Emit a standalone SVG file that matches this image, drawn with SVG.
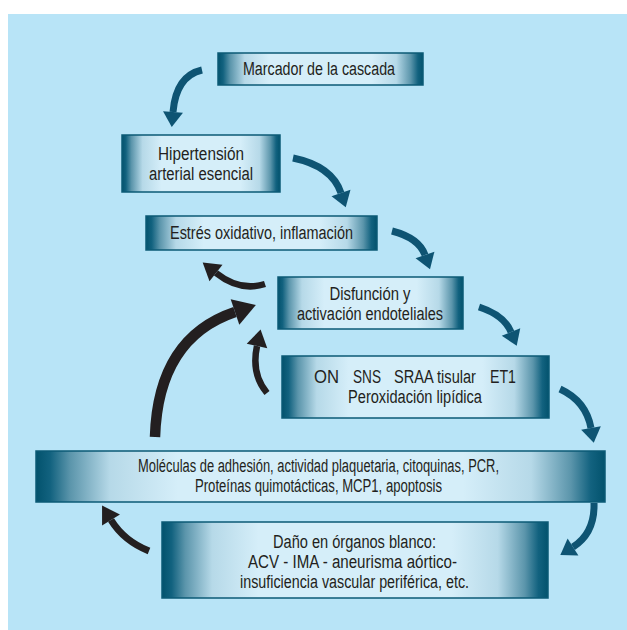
<svg xmlns="http://www.w3.org/2000/svg" width="627" height="630" viewBox="0 0 627 630">
<defs>
<style>
.box{fill:url(#g);stroke:#0b5a76;stroke-width:1.5}
.t{font-family:"Liberation Sans",Arial,sans-serif;font-size:19px;fill:#231f20;text-anchor:middle}
.ta{fill:none;stroke:#0e5473;stroke-width:7}
.ba{fill:none;stroke:#231f20;stroke-width:6.5}
</style>
<linearGradient id="g" x1="0" y1="0" x2="1" y2="0">
<stop offset="0" stop-color="#02526d"/>
<stop offset="0.025" stop-color="#12627f"/>
<stop offset="0.06" stop-color="#5b95ab"/>
<stop offset="0.13" stop-color="#b6d9e8"/>
<stop offset="0.25" stop-color="#d5eef9"/>
<stop offset="0.75" stop-color="#d5eef9"/>
<stop offset="0.87" stop-color="#b6d9e8"/>
<stop offset="0.94" stop-color="#5b95ab"/>
<stop offset="0.975" stop-color="#12627f"/>
<stop offset="1" stop-color="#02526d"/>
</linearGradient>
<marker id="ht" markerUnits="userSpaceOnUse" viewBox="0 -10 15 20" refX="0" refY="0" markerWidth="15" markerHeight="20" orient="auto" overflow="visible">
<path d="M0,-10 L15,0 L0,10 Z" fill="#0e5473"/>
</marker>
<marker id="hb" markerUnits="userSpaceOnUse" viewBox="0 -11 18 22" refX="0" refY="0" markerWidth="18" markerHeight="22" orient="auto" overflow="visible">
<path d="M0,-10.5 L17,0 L0,10.5 Z" fill="#231f20"/>
</marker>
<marker id="hbb" markerUnits="userSpaceOnUse" viewBox="0 -14 23 28" refX="0" refY="0" markerWidth="23" markerHeight="28" orient="auto" overflow="visible">
<path d="M0,-13.5 L22,0 L0,13.5 Z" fill="#231f20"/>
</marker>
</defs>
<rect x="0" y="0" width="627" height="630" fill="#ffffff"/>
<rect x="8" y="14" width="619" height="616" fill="#b8e4f7"/>

<g id="connectors">
<path class="ta" d="M202,70 Q176,76 173,112" marker-end="url(#ht)"/>
<path class="ta" d="M293,158 Q332,166 341,193" marker-end="url(#ht)"/>
<path class="ta" d="M392,231 Q419,238 425,255" marker-end="url(#ht)"/>
<path class="ta" d="M479,307 Q504,315 511,332" marker-end="url(#ht)"/>
<path class="ta" d="M560,389 Q586,401 591,428" marker-end="url(#ht)"/>
<path class="ta" d="M594,503 Q595,533 573,547" marker-end="url(#ht)"/>
<path class="ba" d="M265,284 Q240,292 216,273" marker-end="url(#hb)"/>
<path class="ba" style="stroke-width:10.5" d="M155,437 Q158,338 235,312" marker-end="url(#hbb)"/>
<path class="ba" d="M267,393 Q251,374 257,346" marker-end="url(#hb)"/>
<path class="ba" style="stroke-width:7" d="M149,551 Q124,541 111,520" marker-end="url(#hb)"/>
</g>

<g id="n1">
<rect class="box" x="218" y="53" width="205" height="32"/>
<text class="t" transform="translate(319,75) scale(0.8,1)" textLength="190" lengthAdjust="spacingAndGlyphs">Marcador de la cascada</text>
</g>
<g id="n2">
<rect class="box" x="122" y="135" width="158" height="57"/>
<text class="t" transform="translate(201,160) scale(0.8,1)" textLength="107.5" lengthAdjust="spacingAndGlyphs">Hipertensión</text>
<text class="t" transform="translate(201,180) scale(0.8,1)" textLength="130" lengthAdjust="spacingAndGlyphs">arterial esencial</text>
</g>
<g id="n3">
<rect class="box" x="146" y="216" width="231" height="34"/>
<text class="t" transform="translate(261.5,239) scale(0.8,1)" textLength="228.75" lengthAdjust="spacingAndGlyphs">Estrés oxidativo, inflamación</text>
</g>
<g id="n4">
<rect class="box" x="278" y="277" width="185" height="52"/>
<text class="t" transform="translate(370,300) scale(0.8,1)" textLength="101.25" lengthAdjust="spacingAndGlyphs">Disfunción y</text>
<text class="t" transform="translate(370,320) scale(0.8,1)" textLength="182.5" lengthAdjust="spacingAndGlyphs">activación endoteliales</text>
</g>
<g id="n5">
<rect class="box" x="282" y="356" width="267" height="62"/>
<text class="t" style="text-anchor:start" transform="translate(0,383) scale(0.8,1)"><tspan x="392.5" textLength="31.25" lengthAdjust="spacingAndGlyphs">ON</tspan><tspan x="441.25" textLength="35" lengthAdjust="spacingAndGlyphs">SNS</tspan><tspan x="492.5" textLength="102.5" lengthAdjust="spacingAndGlyphs">SRAA tisular</tspan><tspan x="612.5" textLength="32.5" lengthAdjust="spacingAndGlyphs">ET1</tspan></text>
<text class="t" transform="translate(415,403) scale(0.8,1)" textLength="167.5" lengthAdjust="spacingAndGlyphs">Peroxidación lipídica</text>
</g>
<g id="n6">
<rect class="box" x="36" y="451" width="569" height="51"/>
<text class="t" transform="translate(318.5,472) scale(0.8,1)" textLength="451.25" lengthAdjust="spacingAndGlyphs">Moléculas de adhesión,  actividad plaquetaria, citoquinas, PCR,</text>
<text class="t" transform="translate(318.5,492) scale(0.8,1)" textLength="308.75" lengthAdjust="spacingAndGlyphs">Proteínas quimotácticas, MCP1, apoptosis</text>
</g>
<g id="n7">
<rect class="box" x="162" y="522" width="386" height="76"/>
<text class="t" transform="translate(354.5,548) scale(0.8,1)" textLength="203.75" lengthAdjust="spacingAndGlyphs">Daño en órganos blanco:</text>
<text class="t" transform="translate(352.5,568) scale(0.8,1)" textLength="261.25" lengthAdjust="spacingAndGlyphs">ACV - IMA - aneurisma aórtico-</text>
<text class="t" transform="translate(354.5,588) scale(0.8,1)" textLength="286.25" lengthAdjust="spacingAndGlyphs">insuficiencia vascular periférica, etc.</text>
</g>
</svg>
